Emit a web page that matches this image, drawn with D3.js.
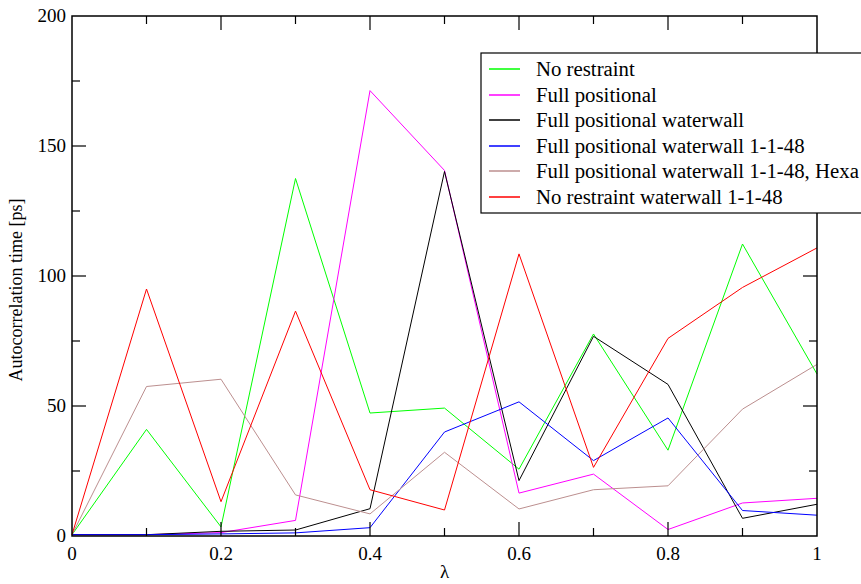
<!DOCTYPE html>
<html>
<head>
<meta charset="utf-8">
<script src="https://cdn.jsdelivr.net/npm/d3@7"></script>
<style>
  body { margin: 0; background: #fff; }
  text { font-family: "Liberation Serif", "DejaVu Serif", serif; fill: #000; }
</style>
</head>
<body>
<div id="chart"></div>
<script>
(function(){
var lambdas = [0, 0.1, 0.2, 0.3, 0.4, 0.5, 0.6, 0.7, 0.8, 0.9, 1.0];

var noRestraint      = [0.5, 41, 3.5, 137.5, 47.3, 49.2, 25.7, 77.7, 33, 112.3, 62.3];
var fullPositional   = [0.5, 0.5, 1.3, 6, 171.3, 140.6, 16.5, 23.8, 2.5, 12.7, 14.5];
var fullPosWaterwall = [0.5, 0.5, 1.8, 2.3, 10.5, 140.2, 21.3, 76.8, 58.3, 6.8, 12.2];
var fullPosWW1148    = [0.5, 0.5, 0.8, 1.2, 3.2, 40, 51.6, 29, 45.4, 9.8, 8];
var fullPosWW1148Hex = [0.5, 57.5, 60.3, 15.8, 8.5, 32.2, 10.4, 17.8, 19.3, 48.8, 66];
var noRestraintWW    = [0.5, 95, 13.2, 86.5, 17.8, 10, 108.5, 26.4, 76, 95.6, 110.8];

var seriesNames = ["No restraint", "Full positional", "Full positional waterwall",
  "Full positional waterwall 1-1-48", "Full positional waterwall 1-1-48, Hexa",
  "No restraint waterwall 1-1-48"];
var seriesColors = ["#00ff00", "#ff00ff", "#000000", "#0000ff", "#bc8f8f", "#ff0000"];
var seriesValues = [noRestraint, fullPositional, fullPosWaterwall, fullPosWW1148, fullPosWW1148Hex, noRestraintWW];

var xTicks = [0, 0.2, 0.4, 0.6, 0.8, 1];
var yTicks = [0, 50, 100, 150, 200];

var margin = {top:16, left:72, right:44, bottom:48},
  W = 861, H = 584,
  width = W - margin.left - margin.right,
  height = H - margin.top - margin.bottom;

var svg = d3.select("#chart").append("svg")
  .attr("width", W).attr("height", H);

var g = svg.append("g")
  .attr("transform","translate("+margin.left+","+margin.top+")");

var x = d3.scaleLinear().domain([0,1]).range([0,width]);
var y = d3.scaleLinear().domain([0,200]).range([height,0]);

var line = d3.line()
  .x(function(d,i){ return x(lambdas[i]); })
  .y(function(d){ return y(d); });

// data lines
seriesValues.forEach(function(vals, k){
  g.append("path")
    .datum(vals)
    .attr("fill","none")
    .attr("stroke", seriesColors[k])
    .attr("stroke-width", 1)
    .attr("d", line);
});

// frame
g.append("rect")
  .attr("width", width).attr("height", height)
  .attr("fill","none").attr("stroke","#000").attr("stroke-width",1.5);

var xMinor = d3.range(0.1, 1, 0.2);
var yMinor = d3.range(25, 200, 50);

// inward ticks on all 4 sides
function xTickLines(vals, len){
  vals.forEach(function(v){
    g.append("line").attr("x1",x(v)).attr("x2",x(v)).attr("y1",height).attr("y2",height-len)
      .attr("stroke","#000").attr("stroke-width",1.2);
    g.append("line").attr("x1",x(v)).attr("x2",x(v)).attr("y1",0).attr("y2",len)
      .attr("stroke","#000").attr("stroke-width",1.2);
  });
}
function yTickLines(vals, len){
  vals.forEach(function(v){
    g.append("line").attr("y1",y(v)).attr("y2",y(v)).attr("x1",0).attr("x2",len)
      .attr("stroke","#000").attr("stroke-width",1.2);
    g.append("line").attr("y1",y(v)).attr("y2",y(v)).attr("x1",width).attr("x2",width-len)
      .attr("stroke","#000").attr("stroke-width",1.2);
  });
}
xTickLines(xTicks.slice(1,-1), 14);
xTickLines(xMinor, 8);
yTickLines(yTicks.slice(1,-1), 14);
yTickLines(yMinor, 8);

// tick labels
g.selectAll(".xl").data(xTicks).enter().append("text")
  .attr("x", function(d){ return x(d); })
  .attr("y", height + 24)
  .attr("text-anchor","middle")
  .style("font-size","19px")
  .text(function(d){ return d3.format("")(d); });

g.selectAll(".yl").data(yTicks).enter().append("text")
  .attr("x", -6)
  .attr("y", function(d){ return y(d) + 6; })
  .attr("text-anchor","end")
  .style("font-size","19px")
  .text(function(d){ return d; });

// axis labels
svg.append("text")
  .attr("x", margin.left + width/2)
  .attr("y", 578)
  .attr("text-anchor","middle")
  .style("font-size","19px")
  .text("λ");

svg.append("text")
  .attr("transform","translate(22,"+(margin.top + height/2 + 14)+") rotate(-90)")
  .attr("text-anchor","middle")
  .style("font-size","18px")
  .text("Autocorrelation time [ps]");

// legend
var leg = svg.append("g");
leg.append("rect")
  .attr("x", 481).attr("y", 53)
  .attr("width", 400).attr("height", 160)
  .attr("fill","#fff").attr("stroke","#000").attr("stroke-width",1.2);

seriesNames.forEach(function(name, i){
  var ly = Math.round(69 + i*25.6);
  leg.append("line")
    .attr("x1", 489).attr("x2", 520)
    .attr("y1", ly).attr("y2", ly)
    .attr("stroke", seriesColors[i]).attr("stroke-width",1.5);
  leg.append("text")
    .attr("x", 536).attr("y", ly + 7)
    .style("font-size","20.8px")
    .text(name);
});

})();
</script>
</body>
</html>
